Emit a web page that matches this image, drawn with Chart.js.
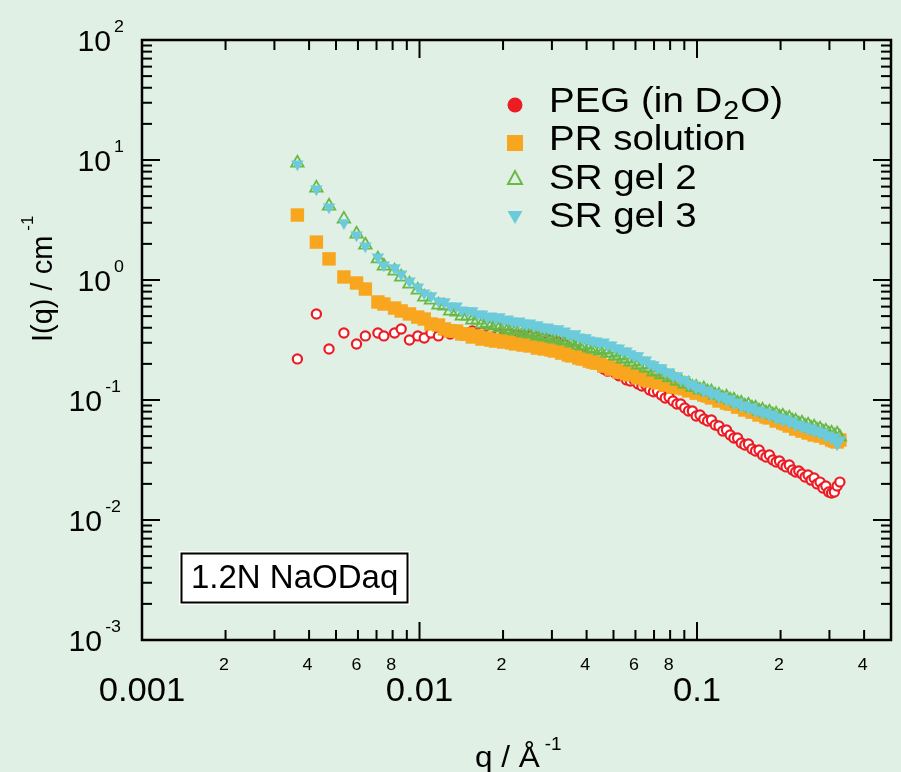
<!DOCTYPE html>
<html>
<head>
<meta charset="utf-8">
<script src="https://cdn.jsdelivr.net/npm/chart.js@4.4.1/dist/chart.umd.min.js"></script>
<style>
  html, body { margin: 0; padding: 0; background: #e0f0e5; }
  #wrap { width: 901px; height: 772px; position: relative; }
</style>
</head>
<body>
<div id="wrap"><canvas id="saxs"></canvas></div>
<script>
// q values (1/Å), shared by all four samples
const q = [
  0.00363, 0.00425, 0.00472, 0.00534, 0.00593, 0.00638, 0.00708, 0.00744, 0.00813, 0.00859, 0.00920, 0.00986,
  0.0104, 0.0110, 0.0117, 0.0123, 0.0129, 0.0136, 0.0142, 0.0149, 0.0155, 0.0162, 0.0168, 0.0175, 0.0181, 0.0188,
  0.0194, 0.0201, 0.0208, 0.0215, 0.0222, 0.0229, 0.0236, 0.0243, 0.0250, 0.0258, 0.0266, 0.0274, 0.0282, 0.0290,
  0.0298, 0.0307, 0.0316, 0.0325, 0.0334, 0.0344, 0.0354, 0.0364, 0.0375, 0.0386, 0.0397, 0.0409, 0.0421, 0.0434,
  0.0447, 0.0461, 0.0476, 0.0491, 0.0507, 0.0523, 0.0540, 0.0557, 0.0575, 0.0594, 0.0613, 0.0633, 0.0654, 0.0675,
  0.0697, 0.0720, 0.0744, 0.0768, 0.0793, 0.0819, 0.0846, 0.0874, 0.0903, 0.0932, 0.0962, 0.0993, 0.1025, 0.1058,
  0.1092, 0.1127, 0.1163, 0.1200, 0.1238, 0.1277, 0.1317, 0.1358, 0.1400, 0.1443, 0.1487, 0.1532, 0.1578, 0.1625,
  0.1673, 0.1722, 0.1772, 0.1823, 0.1875, 0.1928, 0.1982, 0.2037, 0.2093, 0.2150, 0.2208, 0.2267, 0.2327, 0.2388,
  0.2450, 0.2513, 0.2577, 0.2642, 0.2708, 0.2775, 0.2843, 0.2912, 0.2982, 0.3053, 0.3125, 0.3198, 0.3272
];

// I(q) in 1/cm
const pegI = [
  0.220, 0.521, 0.266, 0.362, 0.293, 0.342, 0.362, 0.342, 0.362, 0.391, 0.316, 0.342,
  0.329, 0.362, 0.342, 0.376, 0.355, 0.369, 0.348, 0.362, 0.376, 0.355, 0.369, 0.348, 0.362, 0.342,
  0.355, 0.342, 0.355, 0.335, 0.348, 0.335, 0.342, 0.329, 0.342, 0.322, 0.335, 0.322, 0.329, 0.310,
  0.316, 0.304, 0.304, 0.287, 0.287, 0.271, 0.261, 0.261, 0.246, 0.237, 0.233, 0.215, 0.207, 0.200,
  0.196, 0.181, 0.174, 0.178, 0.168, 0.159, 0.162, 0.147, 0.144, 0.147, 0.136, 0.131, 0.133, 0.121,
  0.117, 0.119, 0.110, 0.104, 0.106, 0.0981, 0.0926, 0.0926, 0.0858, 0.0810, 0.0810, 0.0736, 0.0750, 0.0695,
  0.0668, 0.0681, 0.0619, 0.0607, 0.0551, 0.0562, 0.0511, 0.0482, 0.0482, 0.0438, 0.0422, 0.0430, 0.0391, 0.0376,
  0.0383, 0.0348, 0.0335, 0.0348, 0.0316, 0.0304, 0.0310, 0.0287, 0.0277, 0.0287, 0.0261, 0.0251, 0.0256, 0.0242,
  0.0228, 0.0237, 0.0215, 0.0224, 0.0200, 0.0207, 0.0185, 0.0192, 0.0171, 0.0168, 0.0171, 0.0192, 0.0207
];
const prI = [
  3.48, 2.07, 1.50, 1.06, 0.944, 0.841, 0.656, 0.631, 0.584, 0.552, 0.521, 0.491,
  0.473, 0.430, 0.422, 0.391, 0.376, 0.376, 0.355, 0.355, 0.335, 0.342, 0.322, 0.329, 0.316, 0.310,
  0.316, 0.304, 0.310, 0.299, 0.293, 0.299, 0.287, 0.293, 0.282, 0.287, 0.271, 0.277, 0.266, 0.271,
  0.261, 0.256, 0.261, 0.246, 0.251, 0.237, 0.233, 0.237, 0.224, 0.220, 0.220, 0.211, 0.207, 0.203,
  0.203, 0.192, 0.192, 0.181, 0.185, 0.171, 0.174, 0.165, 0.162, 0.165, 0.153, 0.156, 0.147, 0.144,
  0.147, 0.139, 0.141, 0.133, 0.136, 0.128, 0.131, 0.126, 0.124, 0.119, 0.121, 0.114, 0.117, 0.110,
  0.108, 0.104, 0.106, 0.0981, 0.100, 0.0944, 0.0926, 0.0926, 0.0874, 0.0874, 0.0825, 0.0841, 0.0794, 0.0794,
  0.0750, 0.0764, 0.0722, 0.0708, 0.0722, 0.0668, 0.0681, 0.0643, 0.0631, 0.0607, 0.0619, 0.0573, 0.0584, 0.0551,
  0.0562, 0.0531, 0.0541, 0.0511, 0.0521, 0.0501, 0.0511, 0.0482, 0.0491, 0.0464, 0.0455, 0.0447, 0.0464
];
const gel2I = [
  9.44, 5.84, 4.14, 3.22, 2.42, 1.96, 1.50, 1.31, 1.19, 1.06, 0.926, 0.825,
  0.722, 0.681, 0.619, 0.607, 0.552, 0.541, 0.501, 0.501, 0.464, 0.464, 0.430, 0.438, 0.414, 0.422,
  0.398, 0.406, 0.383, 0.391, 0.376, 0.383, 0.362, 0.369, 0.355, 0.362, 0.342, 0.348, 0.335, 0.342,
  0.329, 0.322, 0.329, 0.316, 0.310, 0.316, 0.299, 0.304, 0.287, 0.282, 0.287, 0.271, 0.266, 0.266,
  0.256, 0.261, 0.246, 0.246, 0.233, 0.233, 0.220, 0.220, 0.207, 0.207, 0.196, 0.196, 0.185, 0.185,
  0.171, 0.174, 0.162, 0.165, 0.153, 0.156, 0.144, 0.144, 0.136, 0.136, 0.128, 0.128, 0.121, 0.124,
  0.117, 0.117, 0.110, 0.110, 0.104, 0.106, 0.100, 0.100, 0.0944, 0.0944, 0.0891, 0.0908, 0.0858, 0.0858,
  0.0810, 0.0825, 0.0779, 0.0794, 0.0750, 0.0764, 0.0722, 0.0736, 0.0695, 0.0708, 0.0668, 0.0668, 0.0631, 0.0643,
  0.0607, 0.0619, 0.0584, 0.0596, 0.0562, 0.0573, 0.0541, 0.0551, 0.0521, 0.0531, 0.0501, 0.0521, 0.0491
];
const gel3I = [
  9.26, 5.73, 4.06, 2.99, 2.37, 1.92, 1.55, 1.33, 1.26, 1.12, 0.981, 0.874,
  0.779, 0.736, 0.668, 0.656, 0.607, 0.607, 0.562, 0.552, 0.552, 0.521, 0.521, 0.492, 0.501, 0.482,
  0.492, 0.464, 0.473, 0.455, 0.447, 0.455, 0.438, 0.430, 0.438, 0.414, 0.422, 0.406, 0.398, 0.406,
  0.391, 0.383, 0.391, 0.369, 0.376, 0.355, 0.348, 0.355, 0.335, 0.329, 0.329, 0.316, 0.310, 0.310,
  0.299, 0.304, 0.287, 0.287, 0.271, 0.271, 0.256, 0.256, 0.242, 0.233, 0.233, 0.215, 0.215, 0.200,
  0.196, 0.185, 0.185, 0.171, 0.171, 0.159, 0.159, 0.147, 0.147, 0.136, 0.136, 0.126, 0.128, 0.119,
  0.121, 0.112, 0.114, 0.106, 0.108, 0.100, 0.102, 0.0944, 0.0962, 0.0891, 0.0908, 0.0858, 0.0874, 0.0810,
  0.0825, 0.0779, 0.0794, 0.0750, 0.0764, 0.0708, 0.0722, 0.0681, 0.0695, 0.0656, 0.0668, 0.0619, 0.0631, 0.0596,
  0.0607, 0.0573, 0.0584, 0.0551, 0.0562, 0.0531, 0.0541, 0.0501, 0.0511, 0.0482, 0.0491, 0.0430, 0.0464
];

const seriesNames = ['PEG (in D2O)', 'PR solution', 'SR gel 2', 'SR gel 3'];

// axis ticks
const yMajor = [1e-3, 1e-2, 1e-1, 1, 10, 100];
const yExp = ['-3', '-2', '-1', '0', '1', '2'];
const yMinor = [2e-3, 3e-3, 4e-3, 5e-3, 6e-3, 7e-3, 8e-3, 9e-3, 2e-2, 3e-2, 4e-2, 5e-2, 6e-2, 7e-2, 8e-2, 9e-2,
  0.2, 0.3, 0.4, 0.5, 0.6, 0.7, 0.8, 0.9, 2, 3, 4, 5, 6, 7, 8, 9, 20, 30, 40, 50, 60, 70, 80, 90];
const xMajor = [0.001, 0.01, 0.1];
const xMajorLabels = ['0.001', '0.01', '0.1'];
const xMinor = [0.002, 0.003, 0.004, 0.005, 0.006, 0.007, 0.008, 0.009, 0.02, 0.03, 0.04, 0.05, 0.06, 0.07, 0.08, 0.09, 0.2, 0.3, 0.4];
const xMinorLabeled = [0.002, 0.004, 0.006, 0.008, 0.02, 0.04, 0.06, 0.08, 0.2, 0.4];
const xMinorLabels = ['2', '4', '6', '8', '2', '4', '6', '8', '2', '4'];

const RED = '#ec1c24', ORANGE = '#f9a61f', GREEN = '#69b945', CYAN = '#6ccbdb';
const FONT = '"Liberation Sans", Arial, Helvetica, sans-serif';

function pts(arr) {
  return q.map((v, i) => ({ x: v, y: arr[i] }));
}

function txt(ctx, s, x, y, size, align, sx) {
  ctx.save();
  ctx.font = size + 'px ' + FONT;
  ctx.translate(x, y);
  ctx.scale(sx || 1, 1);
  ctx.textAlign = align || 'left';
  ctx.textBaseline = 'alphabetic';
  ctx.fillText(s, 0, 0);
  ctx.restore();
}
function txtW(ctx, s, size, sx) {
  ctx.save();
  ctx.font = size + 'px ' + FONT;
  const w = ctx.measureText(s).width * (sx || 1);
  ctx.restore();
  return w;
}

const decor = {
  id: 'decor',
  beforeDraw(chart) {
    const ctx = chart.ctx;
    ctx.save();
    ctx.fillStyle = '#e0f0e5';
    ctx.fillRect(0, 0, chart.width, chart.height);
    ctx.restore();
  },
  afterDraw(chart) {
    const ctx = chart.ctx;
    const a = chart.chartArea;
    const xs = chart.scales.x, ys = chart.scales.y;
    ctx.save();
    ctx.strokeStyle = '#000';
    ctx.fillStyle = '#000';
    ctx.lineWidth = 2;
    const seg = (x1, y1, x2, y2) => { ctx.beginPath(); ctx.moveTo(x1, y1); ctx.lineTo(x2, y2); ctx.stroke(); };

    // inward ticks on all four sides
    yMinor.forEach(v => { const p = ys.getPixelForValue(v); seg(a.left, p, a.left + 10, p); seg(a.right, p, a.right - 10, p); });
    yMajor.forEach(v => { const p = ys.getPixelForValue(v); seg(a.left, p, a.left + 18, p); seg(a.right, p, a.right - 18, p); });
    xMinor.forEach(v => { const p = xs.getPixelForValue(v); seg(p, a.bottom, p, a.bottom - 10); seg(p, a.top, p, a.top + 10); });
    xMajor.forEach(v => { const p = xs.getPixelForValue(v); seg(p, a.bottom, p, a.bottom - 18); seg(p, a.top, p, a.top + 18); });
    ctx.lineWidth = 2.5;
    ctx.strokeRect(a.left, a.top, a.right - a.left, a.bottom - a.top);

    // y tick labels 10^n
    yMajor.forEach((v, i) => {
      const p = ys.getPixelForValue(v);
      const e = yExp[i];
      const right = e.startsWith('-') ? 121 : 124;
      const ew = txtW(ctx, e, 17, 1.05);
      txt(ctx, e, right - ew, p - 8, 17, 'left', 1.05);
      txt(ctx, '10', right - ew - 3, p + 11, 29, 'right', 1.04);
    });

    // x tick labels
    xMinorLabeled.forEach((v, i) => {
      txt(ctx, xMinorLabels[i], xs.getPixelForValue(v) - 1.5, 670, 17, 'center', 1.05);
    });
    xMajor.forEach((v, i) => {
      txt(ctx, xMajorLabels[i], xs.getPixelForValue(v), 701, 33, 'center', 1.05);
    });

    // axis titles
    const qw = txtW(ctx, 'q / Å', 30, 1.05);
    txt(ctx, 'q / Å', 475, 767, 30, 'left', 1.05);
    txt(ctx, '-1', 475 + qw + 5, 750, 18, 'left', 1.05);

    ctx.save();
    ctx.translate(52, 342);
    ctx.rotate(-Math.PI / 2);
    ctx.font = '29px ' + FONT;
    ctx.textBaseline = 'alphabetic';
    ctx.fillText('I(q) / cm', 0, 0);
    const iw = ctx.measureText('I(q) / cm').width;
    ctx.font = '17px ' + FONT;
    ctx.fillText('-1', iw + 5, -19);
    ctx.restore();

    // legend
    const lx = 515, tx = 549, LS = 35, SX = 1.1;
    const rows = [112, 150, 189, 227];
    const my = [105, 143, 178, 217];
    ctx.fillStyle = RED;
    ctx.beginPath(); ctx.arc(lx, my[0], 7.5, 0, Math.PI * 2); ctx.fill();
    ctx.fillStyle = ORANGE;
    ctx.fillRect(lx - 8, my[1] - 8, 16, 16);
    ctx.strokeStyle = GREEN; ctx.lineWidth = 2;
    ctx.beginPath(); ctx.moveTo(lx - 7, my[2] + 6); ctx.lineTo(lx + 7, my[2] + 6); ctx.lineTo(lx, my[2] - 7); ctx.closePath(); ctx.stroke();
    ctx.fillStyle = CYAN;
    ctx.beginPath(); ctx.moveTo(lx - 7.5, my[3] - 6); ctx.lineTo(lx + 7.5, my[3] - 6); ctx.lineTo(lx, my[3] + 7); ctx.closePath(); ctx.fill();

    ctx.fillStyle = '#000';
    const w1 = txtW(ctx, 'PEG (in D', LS, SX);
    txt(ctx, 'PEG (in D', tx, rows[0], LS, 'left', SX);
    txt(ctx, '2', tx + w1 + 1, rows[0] + 7, 26, 'left', SX);
    const w2 = txtW(ctx, '2', 26, SX);
    txt(ctx, 'O)', tx + w1 + w2 + 2, rows[0], LS, 'left', SX);
    txt(ctx, seriesNames[1], tx, rows[1], LS, 'left', SX);
    txt(ctx, seriesNames[2], tx, rows[2], LS, 'left', SX);
    txt(ctx, seriesNames[3], tx, rows[3], LS, 'left', SX);

    // condition box
    ctx.fillStyle = '#fff';
    ctx.fillRect(179, 551, 231, 54);
    ctx.strokeStyle = '#000'; ctx.lineWidth = 2;
    ctx.strokeRect(181.5, 553.5, 226, 49);
    ctx.fillStyle = '#000';
    txt(ctx, '1.2N NaODaq', 191, 588, 33, 'left', 1.0);
    ctx.restore();
  }
};

new Chart(document.getElementById('saxs'), {
  type: 'scatter',
  data: {
    datasets: [
      { label: seriesNames[0], data: pts(pegI), order: 4, pointStyle: 'circle', pointRadius: 4.6,
        borderColor: RED, backgroundColor: '#ffffff', borderWidth: 2.2 },
      { label: seriesNames[1], data: pts(prI), order: 3, pointStyle: 'rect', pointRadius: 9.5,
        borderColor: ORANGE, backgroundColor: ORANGE, borderWidth: 0 },
      { label: seriesNames[2], data: pts(gel2I), order: 2, pointStyle: 'triangle', pointRadius: 7.2,
        borderColor: GREEN, backgroundColor: 'rgba(0,0,0,0)', borderWidth: 1.8 },
      { label: seriesNames[3], data: pts(gel3I), order: 1, pointStyle: 'triangle', rotation: 180, pointRadius: 7.2,
        borderColor: CYAN, backgroundColor: CYAN, borderWidth: 0 }
    ]
  },
  options: {
    responsive: true,
    maintainAspectRatio: false,
    animation: false,
    events: [],
    layout: { padding: { left: 142, right: 10, top: 40, bottom: 132 } },
    scales: {
      x: { type: 'logarithmic', min: 0.001, max: 0.5, display: false },
      y: { type: 'logarithmic', min: 0.001, max: 100, display: false }
    },
    plugins: { legend: { display: false }, tooltip: { enabled: false } }
  },
  plugins: [decor]
});
</script>
</body>
</html>
